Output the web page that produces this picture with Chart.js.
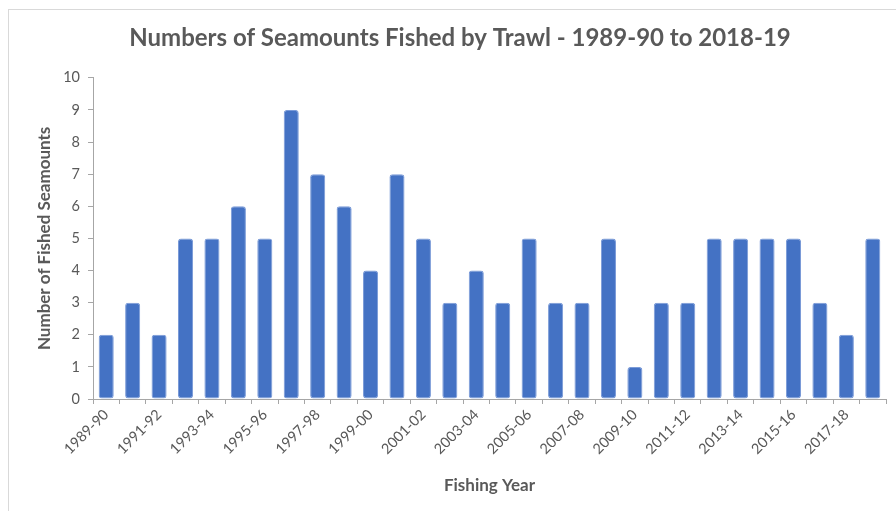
<!DOCTYPE html>
<html>
<head>
<meta charset="utf-8">
<script src="https://cdn.jsdelivr.net/npm/chart.js@4"></script>
<style>
    html, body { margin: 0; padding: 0; background: #fff; }
    #wrap { position: relative; width: 896px; height: 511px; overflow: hidden; }
    #frame { position: absolute; left: 8px; top: 9px; width: 900px; height: 520px; border: 1px solid #d9d9d9; box-sizing: border-box; }
    canvas { position: absolute; left: 0; top: 0; }
</style>
</head>
<body>
<div id="wrap">
    <div id="frame"></div>
    <canvas id="seamountChart" width="896" height="511"></canvas>
</div>
<script>
const fishingYears = [
    '1989-90', '1990-91', '1991-92', '1992-93', '1993-94', '1994-95', '1995-96', '1996-97',
    '1997-98', '1998-99', '1999-00', '2000-01', '2001-02', '2002-03', '2003-04', '2004-05',
    '2005-06', '2006-07', '2007-08', '2008-09', '2009-10', '2010-11', '2011-12', '2012-13',
    '2013-14', '2014-15', '2015-16', '2016-17', '2017-18', '2018-19'
];
const fishedSeamounts = [2, 3, 2, 5, 5, 6, 5, 9, 7, 6, 4, 7, 5, 3, 4, 3, 5, 3, 3, 5, 1, 3, 3, 5, 5, 5, 5, 3, 2, 5];
const yTicks = [0, 1, 2, 3, 4, 5, 6, 7, 8, 9, 10];

const textColor = '#595959';
const axisColor = '#a6a6a6';
const fontFamily = 'Lato, "Open Sans", sans-serif';

function drawSeamountChart() {
    const data = {
        labels: fishingYears,
        datasets: [{
            label: 'Seamounts fished',
            data: fishedSeamounts,
            backgroundColor: '#4472C4',
            borderColor: '#7b9bd8',
            borderWidth: 1,
            borderRadius: 3,
            borderSkipped: false,
            barPercentage: 0.57,
            categoryPercentage: 1
        }]
    };

    const config = {
        type: 'bar',
        data: data,
        options: {
            responsive: false,
            animation: false,
            layout: {
                padding: { left: 34, right: 10, top: 0, bottom: 12 }
            },
            plugins: {
                legend: { display: false },
                tooltip: { enabled: false },
                title: {
                    display: true,
                    text: 'Numbers of Seamounts Fished by Trawl - 1989-90 to 2018-19',
                    color: textColor,
                    font: { family: fontFamily, size: 24, weight: 'bold' },
                    padding: { top: 24, bottom: 25 }
                }
            },
            scales: {
                x: {
                    offset: true,
                    border: { color: axisColor, width: 1 },
                    grid: {
                        offset: true,
                        drawOnChartArea: false,
                        drawTicks: true,
                        tickLength: 5,
                        color: axisColor
                    },
                    ticks: {
                        autoSkip: false,
                        minRotation: 45,
                        maxRotation: 45,
                        padding: 2,
                        color: textColor,
                        font: { family: fontFamily, size: 14.5 },
                        callback: function (value, index) {
                            return index % 2 === 0 ? fishingYears[index] : '';
                        }
                    },
                    title: {
                        display: true,
                        text: 'Fishing Year',
                        color: textColor,
                        font: { family: fontFamily, size: 17, weight: 'bold' },
                        padding: { top: 0, bottom: 3 }
                    },
                    afterFit: function (scale) { scale.height = 100; }
                },
                y: {
                    min: 0,
                    max: 10,
                    border: { color: axisColor, width: 1 },
                    grid: {
                        drawOnChartArea: false,
                        drawTicks: true,
                        tickLength: 5,
                        color: axisColor
                    },
                    afterBuildTicks: function (scale) {
                        scale.ticks = yTicks.map(v => ({ value: v }));
                    },
                    ticks: {
                        padding: 8,
                        color: textColor,
                        font: { family: fontFamily, size: 14.5 }
                    },
                    title: {
                        display: true,
                        text: 'Number of Fished Seamounts',
                        color: textColor,
                        font: { family: fontFamily, size: 17, weight: 'bold' },
                        padding: { top: 0, bottom: 0 }
                    },
                    afterFit: function (scale) { scale.width = 59; }
                }
            }
        }
    };

    const canvas = document.getElementById('seamountChart');
    const ctx = canvas.getContext('2d');
    return new Chart(ctx, config);
}

drawSeamountChart();
</script>
</body>
</html>
